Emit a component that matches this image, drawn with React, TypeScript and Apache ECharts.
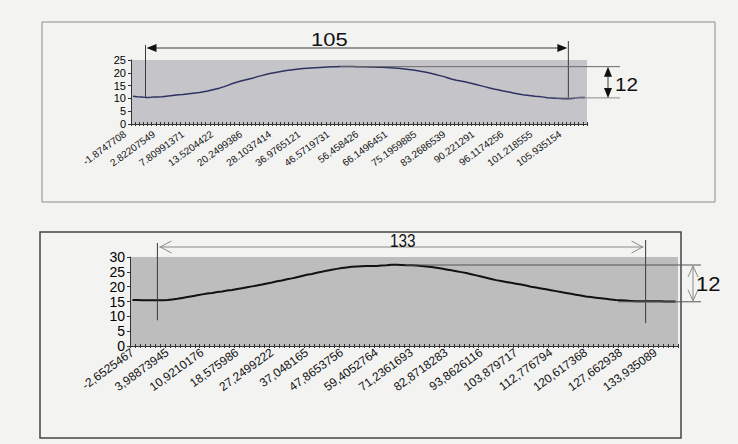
import React, { useEffect, useRef } from 'react';
import * as echarts from 'echarts';

// ---- data ----
const topTickLabels = ['-1.8747708', '2.82207549', '7.80991371', '13.5204422', '20.2499386', '28.1037414', '36.9765121', '46.5719731', '56.458426', '66.1496451', '75.1959885', '83.2686539', '90.221291', '96.1174256', '101.218555', '105.935154'];
const bottomTickLabels = ['-2,6525467', '3,98873945', '10,9210176', '18,575986', '27,2499222', '37,048165', '47,8653756', '59,4052764', '71,2361693', '82,8718283', '93,8626116', '103,879717', '112,776794', '120,617368', '127,662938', '133,935089'];
const LABEL_STEP = 7;

const topValues = [
  10.8, 10.6, 10.5, 10.4, 10.4, 10.5, 10.5, 10.6, 10.8, 11.0,
  11.2, 11.4, 11.5, 11.7, 11.9, 12.1, 12.3, 12.6, 12.9, 13.3,
  13.7, 14.1, 14.6, 15.2, 15.8, 16.3, 16.8, 17.2, 17.6, 18.0,
  18.5, 18.9, 19.3, 19.7, 20.0, 20.3, 20.6, 20.9, 21.1, 21.3,
  21.5, 21.7, 21.8, 21.9, 22.0, 22.1, 22.2, 22.3, 22.4, 22.4,
  22.5, 22.5, 22.5, 22.5, 22.4, 22.4, 22.4, 22.3, 22.3, 22.2,
  22.2, 22.1, 22.0, 21.9, 21.8, 21.6, 21.4, 21.2, 21.0, 20.7,
  20.4, 20.1, 19.7, 19.3, 18.9, 18.5, 18.0, 17.5, 17.1, 16.8,
  16.5, 16.1, 15.7, 15.3, 14.9, 14.5, 14.1, 13.7, 13.4, 13.0,
  12.7, 12.4, 12.0, 11.7, 11.4, 11.2, 11.0, 10.8, 10.7, 10.5,
  10.3, 10.2, 10.1, 10.0, 9.9, 9.9, 10.0, 10.3, 10.4, 10.4,
];

const bottomValues = [
  15.5, 15.5, 15.4, 15.4, 15.4, 15.4, 15.4, 15.5, 15.7, 15.9,
  16.2, 16.5, 16.8, 17.1, 17.4, 17.7, 17.9, 18.2, 18.4, 18.7,
  18.9, 19.2, 19.5, 19.8, 20.1, 20.4, 20.7, 21.1, 21.4, 21.8,
  22.1, 22.5, 22.8, 23.2, 23.6, 24.0, 24.3, 24.7, 25.0, 25.4,
  25.7, 26.0, 26.3, 26.5, 26.7, 26.8, 26.9, 27.0, 27.0, 27.0,
  27.1, 27.2, 27.4, 27.4, 27.3, 27.2, 27.2, 27.1, 27.0, 26.8,
  26.6, 26.4, 26.1, 25.8, 25.5, 25.2, 24.9, 24.6, 24.2, 23.8,
  23.4, 23.0, 22.6, 22.2, 21.9, 21.6, 21.3, 21.0, 20.7, 20.4,
  20.0, 19.7, 19.4, 19.1, 18.8, 18.5, 18.2, 17.9, 17.6, 17.3,
  17.0, 16.7, 16.5, 16.3, 16.1, 15.9, 15.7, 15.5, 15.4, 15.3,
  15.2, 15.1, 15.1, 15.1, 15.1, 15.1, 15.1, 15.0, 15.0, 15.0,
];

const topSpan = { text: '105', fromIndex: 3, toIndex: 105 };
const topRise = { text: '12', low: 10.2, high: 22.4 };
const bottomSpan = { text: '133', fromIndex: 5, toIndex: 103 };
const bottomRise = { text: '12', low: 14.9, high: 27.3 };

const topCats = topValues.map((_, i) => String(i));
const bottomCats = bottomValues.map((_, i) => String(i));

const FONT = 'Liberation Sans, Arial, sans-serif';

function labelFmt(labels: string[]) {
  return (v: string) => {
    const i = Number(v);
    return i % LABEL_STEP === 0 ? labels[i / LABEL_STEP] ?? '' : '';
  };
}

function xAxes(grid: number, cats: string[], labels: string[], fontSize: number, margin: number, padding: number[]) {
  return [
    {
      gridIndex: grid, type: 'category', data: cats, boundaryGap: true,
      axisLine: { show: true, lineStyle: { color: '#333', width: 1 } },
      axisTick: { show: true, interval: 0, length: 2, lineStyle: { color: '#333' } },
      axisLabel: {
        interval: LABEL_STEP - 1, rotate: 36, formatter: labelFmt(labels),
        fontSize, color: '#111', margin, fontFamily: FONT, padding,
      },
      splitLine: { show: false },
    },
    {
      gridIndex: grid, type: 'category', data: cats, boundaryGap: true, position: 'bottom',
      axisLine: { show: false },
      axisTick: { show: true, inside: true, interval: 0, length: 2, lineStyle: { color: '#333' } },
      axisLabel: { show: false },
      splitLine: { show: false },
    },
  ];
}

function yAxis(grid: number, max: number, fontSize: number) {
  return {
    gridIndex: grid, type: 'value', min: 0, max, interval: 5,
    splitLine: { show: false },
    axisLine: { show: true, lineStyle: { color: '#333', width: 1 } },
    axisTick: { show: true, length: 3, lineStyle: { color: '#333' } },
    axisLabel: {
      fontSize, lineHeight: fontSize, color: '#000', margin: 5, fontFamily: FONT,
      showMinLabel: true, showMaxLabel: true, hideOverlap: false,
    },
  };
}

export default function App() {
  const ref = useRef<HTMLDivElement>(null);
  useEffect(() => {
    if (!ref.current) return;
    const chart = echarts.init(ref.current, null, { renderer: 'svg' });
    chart.setOption({
      animation: false,
      backgroundColor: '#f3f3f2',
      grid: [
        { left: 131, top: 60, width: 456, height: 64, show: true, backgroundColor: '#c5c5c9', borderWidth: 0 },
        { left: 130, top: 257, width: 548, height: 89, show: true, backgroundColor: '#bdbdbd', borderWidth: 0 },
      ],
      xAxis: [
        ...xAxes(0, topCats, topTickLabels, 10, 3, [0, 10, 0, 0]),
        ...xAxes(1, bottomCats, bottomTickLabels, 12, 5, [0, 0, 0, 0]),
      ],
      yAxis: [yAxis(0, 25, 11), yAxis(1, 30, 14)],
      series: [
        {
          type: 'line', xAxisIndex: 0, yAxisIndex: 0, data: topValues, showSymbol: false,
          lineStyle: { color: '#2e3263', width: 1.5 },
        },
        {
          type: 'line', xAxisIndex: 2, yAxisIndex: 1, data: bottomValues, showSymbol: false,
          lineStyle: { color: '#111', width: 2 },
        },
      ],
    });

    const pt = (xa: number, ya: number, i: number, v: number) =>
      chart.convertToPixel({ xAxisIndex: xa, yAxisIndex: ya }, [i, v]) as number[];

    // top annotations
    const tL = pt(0, 0, topSpan.fromIndex, topValues[topSpan.fromIndex]);
    const tR = pt(0, 0, topSpan.toIndex, topValues[topSpan.toIndex]);
    const tHi = pt(0, 0, 0, topRise.high)[1];
    const tLo = pt(0, 0, 0, topRise.low)[1];
    const tArrowY = 48;
    const tRiseX = 608;

    // bottom annotations
    const bL = pt(2, 1, bottomSpan.fromIndex, bottomValues[bottomSpan.fromIndex]);
    const bR = pt(2, 1, bottomSpan.toIndex, bottomValues[bottomSpan.toIndex]);
    const bHi = pt(2, 1, 0, bottomRise.high)[1];
    const bLo = pt(2, 1, 0, bottomRise.low)[1];
    const bArrowY = 247;
    const bRiseX = 693;

    const dark = '#3a3a3a';
    const grey = '#8a8a8a';
    const line = (x1: number, y1: number, x2: number, y2: number, stroke: string, w = 1) => ({
      type: 'line', shape: { x1, y1, x2, y2 }, style: { stroke, lineWidth: w }, silent: true,
    });
    const tri = (pts: number[][]) => ({ type: 'polygon', shape: { points: pts }, style: { fill: '#111' }, silent: true });
    const chev = (pts: number[][]) => ({ type: 'polyline', shape: { points: pts }, style: { stroke: grey, lineWidth: 1, fill: null }, silent: true });
    const label = (x: number, y: number, text: string, size: number, sx: number) => ({
      type: 'text', x, y, scaleX: sx, originX: 0, originY: 0,
      style: { text, font: `${size}px ${FONT}`, fill: '#111', align: 'left', verticalAlign: 'middle' }, silent: true,
    });

    const graphic: any[] = [
      // frames
      { type: 'rect', shape: { x: 42, y: 22, width: 673, height: 180 }, style: { fill: null, stroke: '#8c8c8c', lineWidth: 1 }, silent: true },
      { type: 'rect', shape: { x: 40, y: 232, width: 641, height: 206 }, style: { fill: null, stroke: '#444', lineWidth: 1.5 }, silent: true },

      // top: span 105
      line(tL[0], tArrowY - 3, tL[0], tL[1], dark),
      line(tR[0], 41, tR[0], tR[1], dark),
      line(tL[0] + 8, tArrowY, tR[0] - 8, tArrowY, dark),
      tri([[tL[0] + 1, tArrowY], [tL[0] + 11, tArrowY - 4], [tL[0] + 11, tArrowY + 4]]),
      tri([[tR[0] - 1, tArrowY], [tR[0] - 11, tArrowY - 4], [tR[0] - 11, tArrowY + 4]]),
      label(311, 40, topSpan.text, 18, 1.22),
      // top: rise 12
      line(340, tHi, 620, tHi, '#6a6a6a'),
      line(556, tLo, 620, tLo, '#8a8a8a'),
      line(tRiseX, tHi + 8, tRiseX, tLo - 8, dark),
      tri([[tRiseX, tHi], [tRiseX - 4, tHi + 10], [tRiseX + 4, tHi + 10]]),
      tri([[tRiseX, tLo], [tRiseX - 4, tLo - 10], [tRiseX + 4, tLo - 10]]),
      label(615, (tHi + tLo) / 2 + 2, topRise.text, 18, 1.15),

      // bottom: span 133
      line(bL[0], bArrowY - 4, bL[0], bL[1] + 20, dark),
      line(bR[0], bArrowY - 7, bR[0], bR[1] + 22, dark),
      line(bL[0] + 2, bArrowY, bR[0] - 2, bArrowY, grey),
      chev([[bL[0] + 14, bArrowY - 6], [bL[0] + 3, bArrowY], [bL[0] + 14, bArrowY + 6]]),
      chev([[bR[0] - 14, bArrowY - 6], [bR[0] - 3, bArrowY], [bR[0] - 14, bArrowY + 6]]),
      label(390, 241, bottomSpan.text, 18, 0.85),
      // bottom: rise 12
      line(405, bHi, 701, bHi, '#555'),
      line(618, bLo, 701, bLo, '#555'),
      line(bRiseX, bHi + 1, bRiseX, bLo - 1, grey),
      chev([[bRiseX - 5, bHi + 12], [bRiseX, bHi + 1], [bRiseX + 5, bHi + 12]]),
      chev([[bRiseX - 5, bLo - 12], [bRiseX, bLo - 1], [bRiseX + 5, bLo - 12]]),
      label(696, (bHi + bLo) / 2 + 1, bottomRise.text, 21, 1.05),
    ].map((g) => ({ z: 100, ...g }));

    chart.setOption({ graphic });
    return () => chart.dispose();
  }, []);
  return (
    <div
      ref={ref}
      style={{ position: 'absolute', left: 0, top: 0, width: 738, height: 444 }}
    />
  );
}
